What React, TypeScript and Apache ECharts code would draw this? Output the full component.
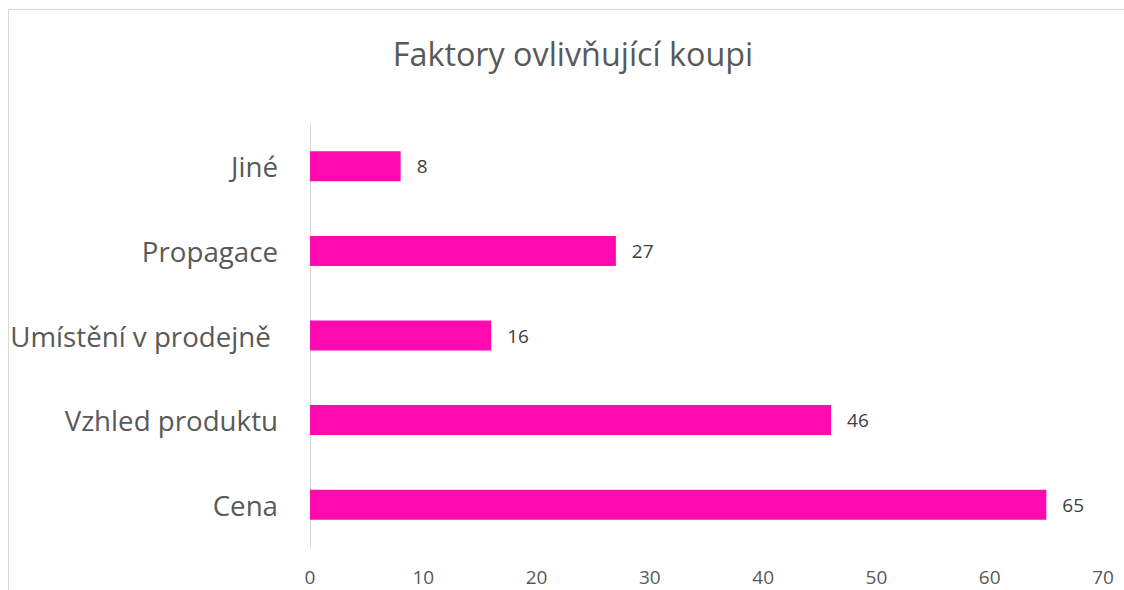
import React, { useEffect, useRef } from "react";
import * as echarts from "echarts";

const categories = ["Cena", "Vzhled produktu", "Umístění v prodejně ", "Propagace", "Jiné"];
const values = [65, 46, 16, 27, 8];
const titleText = "Faktory ovlivňující koupi";
const FONT = "'Open Sans', sans-serif";

export default function App() {
  const ref = useRef<HTMLDivElement>(null);
  useEffect(() => {
    const chart = echarts.init(ref.current!, null, { renderer: "svg" });
    chart.setOption({
      animation: false,
      backgroundColor: "#ffffff",
      title: {
        text: titleText,
        left: 568,
        top: 32,
        textAlign: "center",
        textStyle: { fontFamily: FONT, fontSize: 32.3, fontWeight: "normal", color: "#595959" },
      },
      graphic: [
        { type: "line", shape: { x1: 8.5, y1: 9, x2: 8.5, y2: 590 }, style: { stroke: "#d9d9d9", lineWidth: 1 } },
        { type: "line", shape: { x1: 8, y1: 9.5, x2: 1124, y2: 9.5 }, style: { stroke: "#d9d9d9", lineWidth: 1 } },
      ],
      grid: { left: 310, right: 21, top: 124, bottom: 43, containLabel: false },
      xAxis: {
        type: "value",
        min: 0,
        max: 70,
        interval: 10,
        axisLine: { show: false },
        axisTick: { show: false },
        splitLine: { show: false },
        axisLabel: { fontFamily: FONT, fontSize: 19, color: "#595959", margin: 20 },
      },
      yAxis: {
        type: "category",
        data: categories,
        axisLine: { show: true, lineStyle: { color: "#d9d9d9", width: 1 } },
        axisTick: { show: false },
        axisLabel: { fontFamily: FONT, fontSize: 27.7, color: "#595959", margin: 32 },
      },
      series: [
        {
          type: "bar",
          data: values,
          barWidth: 30,
          itemStyle: { color: "#ff0aaf" },
          label: {
            show: true,
            position: "right",
            distance: 16,
            fontFamily: FONT,
            fontSize: 19,
            color: "#404040",
          },
        },
      ],
    });
    return () => chart.dispose();
  }, []);
  return <div ref={ref} style={{ position: "fixed", left: 0, top: 0, width: 1124, height: 590 }} />;
}
